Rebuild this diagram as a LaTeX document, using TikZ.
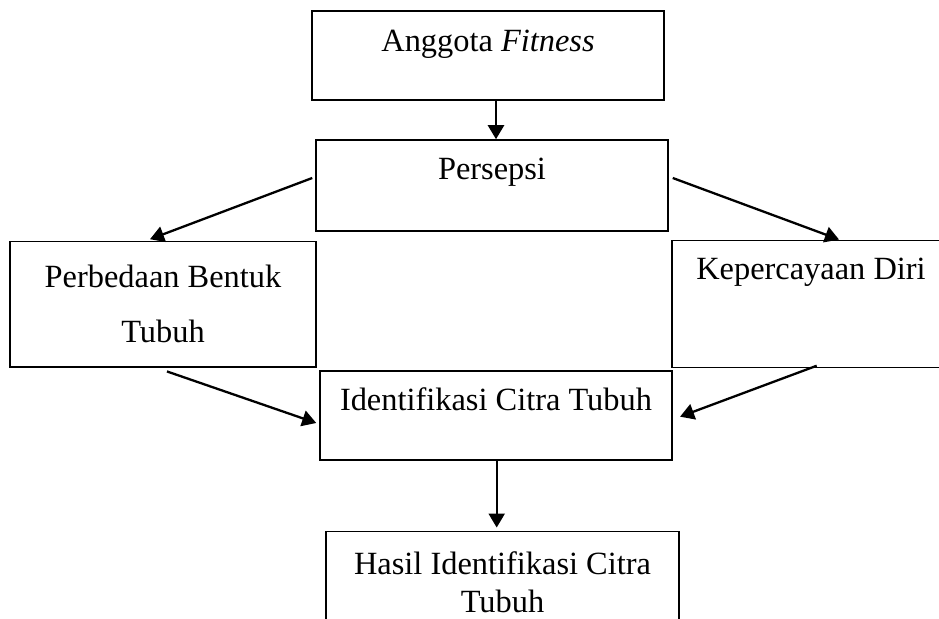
\documentclass[tikz,border=0pt]{standalone}
\usepackage{fontspec}
\setmainfont{Liberation Serif}
\usetikzlibrary{arrows.meta}

\begin{document}
\begin{tikzpicture}[x=0.5pt,y=-0.5pt,
  box/.style={draw, line width=0.75pt, inner sep=0pt, align=center, font=\fontsize{16.2}{27.5}\selectfont},
  arr/.style={-{Triangle[length=7pt,width=8pt]}, line width=1.15pt}]
\useasboundingbox (0,0) rectangle (939,619);
\node[box, minimum width=176pt, text height=20.5pt, text depth=24pt] (anggota) at (488,55.5){Anggota \textit{Fitness}};
\node[box, minimum width=176pt, text height=20pt, text depth=25.5pt] (persepsi) at (492,185.5){Persepsi};
\node[box, minimum width=153pt, minimum height=62.75pt] (perbedaan) at (163,304.25){Perbedaan Bentuk\\Tubuh};
\node[box, minimum width=139pt, text height=19.85pt, text depth=43.65pt] (kepercayaan) at (811,303.8){Kepercayaan Diri};
\node[box, minimum width=176pt, text height=19.85pt, text depth=24.65pt] (identifikasi) at (496,415.5){Identifikasi Citra Tubuh};
\node[box, minimum width=176.5pt, minimum height=50.3pt, font=\fontsize{16.2}{18.8}\selectfont] (hasil) at (502.5,582){Hasil Identifikasi Citra\\Tubuh};
\draw[arr] ([xshift=4pt]anggota.south) -- ([xshift=4pt]anggota.south |- persepsi.north);
\draw[arr] ([xshift=-1.5pt,yshift=3.75pt]persepsi.west) -- ([xshift=-6.5pt,yshift=0.75pt]perbedaan.north);
\draw[arr] ([xshift=2pt,yshift=3.75pt]persepsi.east) -- ([xshift=14pt]kepercayaan.north);
\draw[arr] ([xshift=2pt,yshift=-1.85pt]perbedaan.south) -- ([xshift=-1.5pt,yshift=-3.75pt]identifikasi.west);
\draw[arr] ([xshift=2.85pt,yshift=1.15pt]kepercayaan.south) -- ([xshift=3.65pt,yshift=-0.6pt]identifikasi.east);
\draw[arr] ([xshift=0.35pt]identifikasi.south) -- ([xshift=0.35pt,yshift=1.7pt]identifikasi.south |- hasil.north);
\end{tikzpicture}
\end{document}
